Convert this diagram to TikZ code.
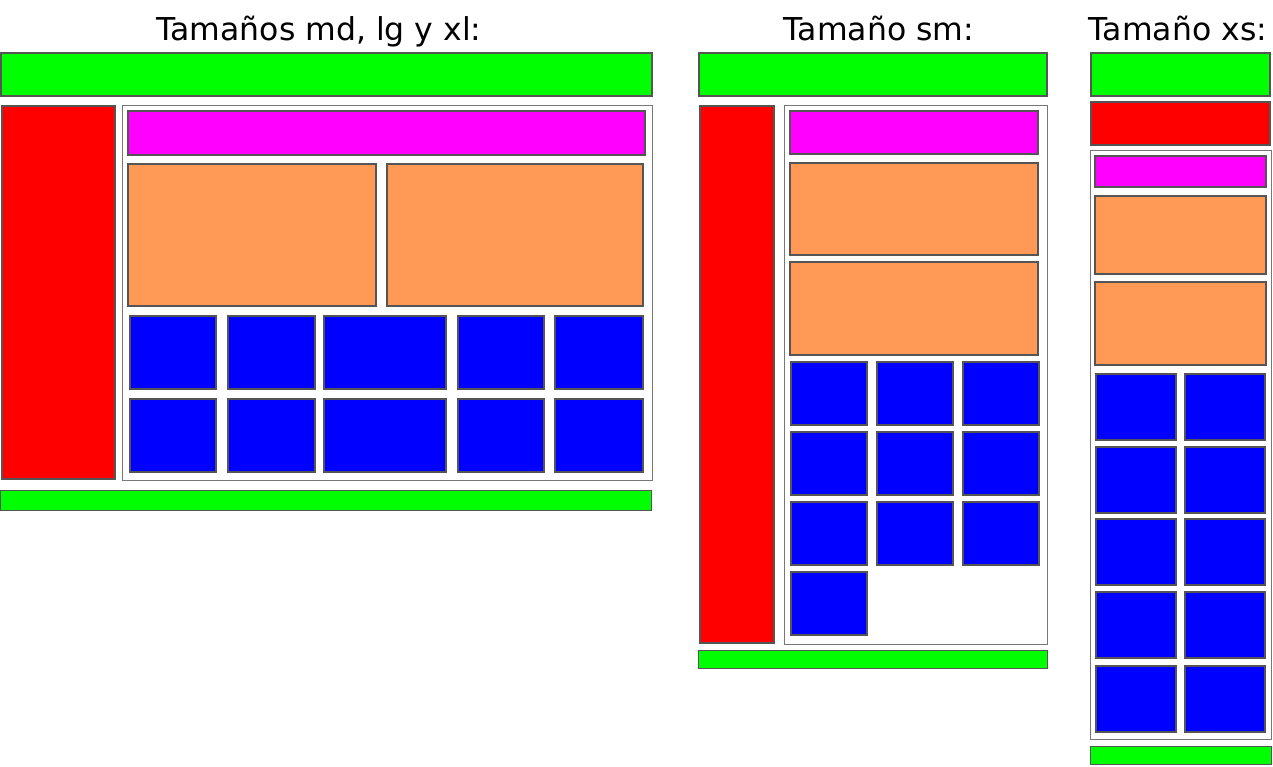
\documentclass[tikz,border=0pt]{standalone}
\usepackage{fontspec}
\setmainfont{DejaVu Sans}
\definecolor{hgreen}{HTML}{00FF00}
\definecolor{hred}{HTML}{FF0000}
\definecolor{hmag}{HTML}{FF00FF}
\definecolor{horange}{HTML}{FF9955}
\definecolor{hblue}{HTML}{0000FF}
\definecolor{boxgray}{HTML}{555555}
\definecolor{contgray}{HTML}{777777}
\tikzset{
  boxst/.style={draw=boxgray, line width=2.4pt},
  contst/.style={draw=contgray, line width=1pt},
  footst/.style={draw=boxgray, line width=1.3pt, fill=hgreen},
  titlest/.style={font=\fontsize{31.5}{36}\selectfont, anchor=base, inner sep=0pt}
}
\newcommand\bx[5]{\draw[boxst, fill=#5] (#1+1.2,#2+1.2) rectangle (#3-1.2,#4-1.2);}
\begin{document}
\begin{tikzpicture}[x=1pt,y=-1pt]
\useasboundingbox (0,0) rectangle (1273,766);
% titles
\node[titlest] (t1) at (319,40) {Tamaños md, lg y xl:};
\node[titlest] (t2) at (879,40) {Tamaño sm:};
\node[titlest] (t3) at (1178,40) {Tamaño xs:};
% ---- left layout
\bx{0}{52}{653}{97}{hgreen}
\bx{1}{105}{116}{480}{hred}
\draw[contst] (122.5,105.5) rectangle (652.5,480.5);
\bx{127}{110}{646}{156}{hmag}
\bx{127}{163}{377}{307}{horange}
\bx{386}{163}{644}{307}{horange}
\foreach \ya/\yb in {315/390,398/473}{
  \foreach \xa/\xb in {129/217,227/316,323/447,457/545,554/644}{
    \bx{\xa}{\ya}{\xb}{\yb}{hblue}
  }
}
\draw[footst] (0.6,490.6) rectangle (651.4,510.4);
% ---- middle layout
\bx{698}{52}{1048}{97}{hgreen}
\bx{699}{105}{775}{644}{hred}
\draw[contst] (784.5,105.5) rectangle (1047.5,644.5);
\bx{789}{110}{1039}{155}{hmag}
\bx{789}{162}{1039}{256}{horange}
\bx{789}{261}{1039}{356}{horange}
\foreach \ya/\yb in {361/426,431/496,501/566}{
  \foreach \xa/\xb in {790/868,876/954,962/1040}{
    \bx{\xa}{\ya}{\xb}{\yb}{hblue}
  }
}
\bx{790}{571}{868}{636}{hblue}
\draw[footst] (698.6,650.6) rectangle (1047.4,668.4);
% ---- right layout
\bx{1090}{52}{1271}{97}{hgreen}
\bx{1090}{101}{1271}{146}{hred}
\draw[contst] (1090.5,150.5) rectangle (1271.5,739.5);
\bx{1094}{155}{1267}{188}{hmag}
\bx{1094}{195}{1267}{275}{horange}
\bx{1094}{281}{1267}{366}{horange}
\foreach \ya/\yb in {373/441,446/514,518/586,591/659,665/733}{
  \foreach \xa/\xb in {1095/1177,1184/1266}{
    \bx{\xa}{\ya}{\xb}{\yb}{hblue}
  }
}
\draw[footst] (1090.6,746.6) rectangle (1271.4,764.4);
\end{tikzpicture}
\end{document}
